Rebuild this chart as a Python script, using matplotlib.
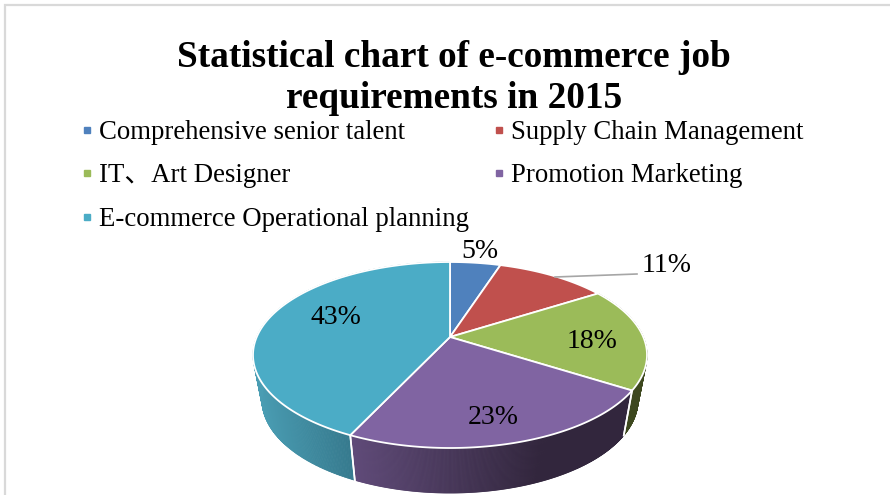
import numpy as np
import matplotlib
matplotlib.use("Agg")
import matplotlib.pyplot as plt
from matplotlib.collections import PolyCollection
from matplotlib.colors import to_rgb
from matplotlib.lines import Line2D
from matplotlib.patches import Rectangle

title = "Statistical chart of e-commerce job\nrequirements in 2015"
categories = ["Comprehensive senior talent", "Supply Chain Management",
              "IT\u3001Art Designer", "Promotion Marketing",
              "E-commerce Operational planning"]
values = [5, 11, 18, 23, 43]
colors = ["#4F81BD", "#C0504D", "#9BBB59", "#8064A2", "#4BACC6"]
side_left = ["#3A5F8C", "#8E3B39", "#3F4A20", "#5F4A78", "#4A9DB3"]
side_right = ["#3A5F8C", "#8E3B39", "#3A451D", "#32263D", "#367A8E"]

W, H = 890, 495
CX, CY_TOP, RX_TOP, RY = 450.0, 355.0, 197.0, 93.0
CY_BOT, RX_BOT = 400.0, 188.0
TILT = 18.0 / 93.0


def project(theta, cy, rx):
    u, v = np.sin(theta), np.cos(theta)
    d = 1 + TILT * v
    return CX + rx * u * np.sqrt(1 - TILT ** 2) / d, cy - RY * (v + TILT) / d


fig = plt.figure(figsize=(W / 100, H / 100), dpi=100, facecolor="white")
ax = fig.add_axes([0, 0, 1, 1])
ax.set_xlim(0, W)
ax.set_ylim(H, 0)
ax.axis("off")
ax.add_patch(Rectangle((5, 5), W + 40, H + 40, fc="white", ec="#D9D9D9", lw=1.6))

edges = np.radians(np.concatenate([[0], np.cumsum(values)]) * 3.6)

# side wall, painted as thin strips for the shading
for i in range(2, 5):
    t = np.linspace(edges[i], edges[i + 1], 300)
    xt, yt = project(t, CY_TOP, RX_TOP)
    xb, yb = project(t, CY_BOT, RX_BOT)
    quads, cols = [], []
    for j in range(len(t) - 1):
        quads.append([(xt[j], yt[j]), (xt[j + 1], yt[j + 1]), (xb[j + 1], yb[j + 1]), (xb[j], yb[j])])
        if i == 3:
            f = np.clip((xt[j] - 353) / (540 - 353), 0, 1)
        elif i == 4:
            f = np.clip((xt[j] - 255) / (350 - 255), 0, 1)
        else:
            f = 0.5
        cols.append(tuple((1 - f) * a + f * b for a, b in zip(to_rgb(side_left[i]), to_rgb(side_right[i]))))
    ax.add_collection(PolyCollection(quads, facecolors=cols, edgecolors=cols, linewidths=0.6, zorder=2))
    for e in (edges[i], edges[i + 1]):
        xa, ya = project(e, CY_TOP, RX_TOP)
        xc, yc = project(e, CY_BOT, RX_BOT)
        if ya > 380:
            ax.plot([xa, xc], [ya, yc], color="white", lw=1.2, zorder=3)

# top face
apex_x, apex_y = CX, CY_TOP - RY * TILT
for i, c in enumerate(colors):
    t = np.linspace(edges[i], edges[i + 1], 200)
    x, y = project(t, CY_TOP, RX_TOP)
    ax.fill(np.r_[apex_x, x], np.r_[apex_y, y], fc=c, ec="white", lw=1.3, joinstyle="round", zorder=4)

# data labels
label_pos = [(480, 252), (667, 266), (592, 342), (493, 417), (336, 318)]
serif = ["Liberation Serif", "Noto Sans CJK SC", "DejaVu Sans"]
for v, (lx, ly) in zip(values, label_pos):
    ax.text(lx, ly, f"{v}%", ha="center", va="center", family=serif, fontsize=20, color="black", zorder=6)
ax.plot([555, 637], [277, 274], color="#A6A6A6", lw=1.2, zorder=5)

# title
ax.text(454, 78, title, ha="center", va="center", family=serif, fontsize=26.8, fontweight="bold",
        linespacing=1.2, color="black", zorder=6)

# legend: matplotlib fills columns first
order = [0, 2, 4, 1, 3]
handles = [Line2D([], [], ls="", marker="s", ms=5, mfc=colors[i], mec=colors[i], label=categories[i]) for i in order]
ax.legend(handles=handles, ncol=2, loc="upper left", bbox_to_anchor=(81.6 / W, 1 - 120 / H),
          frameon=False, prop={"family": serif, "size": 19.25},
          handlelength=0.4, handletextpad=0.25, labelspacing=0.69, columnspacing=0.93,
          borderpad=0, borderaxespad=0)

fig.savefig("out.png", dpi=100, facecolor="white")
